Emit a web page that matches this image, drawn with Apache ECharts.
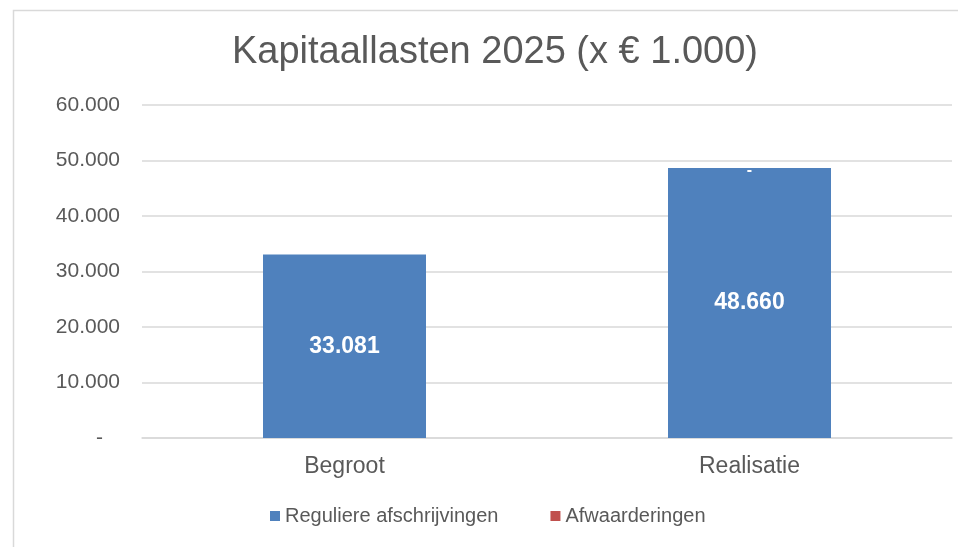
<!DOCTYPE html>
<html>
<head>
<meta charset="utf-8">
<script src="https://cdn.jsdelivr.net/npm/echarts@6/dist/echarts.min.js"></script>
<style>
html,body{margin:0;padding:0;background:#fff;}
#chart{width:958px;height:547px;}
</style>
</head>
<body>
<div id="chart"></div>
<script>
const categories = ['Begroot', 'Realisatie'];
const regulier = [33081, 48660];
const afwaarderingen = [null, 0];
const seriesNames = ['Reguliere afschrijvingen', 'Afwaarderingen'];
const titleText = 'Kapitaallasten 2025 (x € 1.000)';

function fmt(v) {
  if (v === 0) return '-';
  return String(Math.round(v)).replace(/\B(?=(\d{3})+(?!\d))/g, '.');
}
const FF = 'Liberation Sans, Arial, sans-serif';

const chart = echarts.init(document.getElementById('chart'));
chart.setOption({
  animation: false,
  backgroundColor: '#ffffff',
  textStyle: { fontFamily: FF },
  graphic: [{
    type: 'rect',
    left: 11, top: 8,
    shape: { width: 1000, height: 600 },
    style: { fill: 'none', stroke: '#d9d9d9', lineWidth: 1.5 },
    silent: true, z: -10
  }],
  title: {
    text: titleText,
    left: 490,
    textAlign: 'center',
    top: 29,
    textStyle: { fontSize: 38, fontWeight: 'normal', color: '#595959', fontFamily: FF }
  },
  legend: {
    top: 501,
    left: 265,
    orient: 'horizontal',
    data: seriesNames,
    itemWidth: 10, itemHeight: 10, itemGap: 52,
    icon: 'rect',
    textStyle: { fontSize: 20, color: '#595959', fontFamily: FF }
  },
  grid: { left: 142, right: 6, top: 105, bottom: 109, containLabel: false },
  xAxis: {
    type: 'category',
    data: categories,
    axisLine: { lineStyle: { color: '#d9d9d9', width: 1.5 } },
    axisTick: { show: false },
    axisLabel: { color: '#595959', fontSize: 23, margin: 17, fontFamily: FF }
  },
  yAxis: {
    type: 'value',
    min: 0, max: 60000, interval: 10000,
    axisLine: { show: false },
    axisTick: { show: false },
    splitLine: { lineStyle: { color: '#d9d9d9', width: 1.5 } },
    axisLabel: {
      color: '#595959', fontSize: 21, margin: 22, fontFamily: FF,
      formatter: v => v === 0 ? '{d|-}' : fmt(v),
      rich: { d: { fontSize: 21, color: '#595959', padding: [0, 17, 0, 0], fontFamily: FF } }
    }
  },
  series: [
    {
      name: seriesNames[0],
      type: 'bar',
      stack: 'a',
      barWidth: 163,
      data: regulier,
      itemStyle: { color: '#4f81bd' },
      label: {
        show: true, position: 'inside', color: '#ffffff', fontWeight: 'bold', fontSize: 23,
        formatter: p => fmt(p.value), fontFamily: FF
      }
    },
    {
      name: seriesNames[1],
      type: 'bar',
      stack: 'a',
      barWidth: 163,
      data: afwaarderingen,
      itemStyle: { color: '#c0504d' },
      label: {
        show: true, position: 'inside', offset: [0, 3], color: '#ffffff', fontWeight: 'bold', fontSize: 16,
        formatter: p => fmt(p.value)
      }
    }
  ]
});
</script>
</body>
</html>
